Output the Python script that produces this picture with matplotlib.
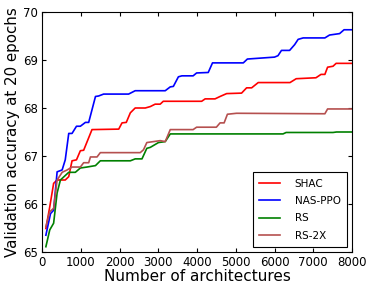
import matplotlib
matplotlib.use('Agg')
import matplotlib.pyplot as plt

# breakpoints (architectures, accuracy)
shac_x = [100, 200, 300, 390, 600, 690, 775, 890, 990, 1075, 1165, 1290, 1980, 2065, 2175,
          2280, 2405, 2665, 2795, 2920, 3050, 3130, 4120, 4210, 4465, 4595, 4765, 5150, 5280,
          5410, 5580, 6400, 6560, 7070, 7200, 7300, 7370, 7510, 7590, 8000]
shac_y = [65.49, 65.94, 66.43, 66.5, 66.5, 66.57, 66.9, 66.92, 67.11, 67.12, 67.3, 67.55, 67.56,
          67.69, 67.7, 67.9, 68.0, 68.0, 68.03, 68.08, 68.08, 68.14, 68.14, 68.19, 68.19, 68.24,
          68.3, 68.31, 68.42, 68.42, 68.53, 68.53, 68.61, 68.63, 68.7, 68.7, 68.85, 68.87, 68.93,
          68.93]

ppo_x = [100, 220, 300, 390, 520, 600, 690, 775, 890, 990, 1120, 1205, 1380, 1460, 1590, 2235,
         2405, 3180, 3310, 3390, 3520, 3610, 3900, 3990, 4290, 4400, 5195, 5300, 6000, 6090,
         6180, 6390, 6520, 6610, 6740, 7300, 7420, 7680, 7795, 8000]
ppo_y = [65.35, 65.8, 65.87, 66.67, 66.71, 66.92, 67.47, 67.47, 67.62, 67.62, 67.7, 67.7, 68.24,
         68.25, 68.29, 68.29, 68.36, 68.36, 68.44, 68.45, 68.65, 68.67, 68.67, 68.73, 68.74, 68.94,
         68.94, 69.02, 69.06, 69.09, 69.2, 69.2, 69.32, 69.43, 69.46, 69.46, 69.52, 69.55, 69.63,
         69.63]

rs_x = [100, 200, 300, 390, 475, 690, 860, 990, 1160, 1380, 1505, 2280, 2405, 2580, 2705, 2795,
        3005, 3180, 3310, 6220, 6300, 7510, 7600, 8000]
rs_y = [65.11, 65.46, 65.6, 66.23, 66.5, 66.66, 66.66, 66.75, 66.77, 66.8, 66.9, 66.9, 66.94,
        66.94, 67.16, 67.18, 67.28, 67.3, 67.46, 67.46, 67.49, 67.49, 67.5, 67.5]

rs2x_x = [100, 200, 300, 390, 520, 650, 775, 990, 1075, 1205, 1250, 1420, 1505, 2535, 2620,
          2705, 3050, 3180, 3310, 3900, 3990, 4500, 4595, 4700, 4785, 5020, 7300, 7370, 8000]
rs2x_y = [65.53, 65.84, 65.91, 66.5, 66.66, 66.71, 66.77, 66.77, 66.86, 66.86, 66.98, 66.98,
          67.07, 67.07, 67.13, 67.28, 67.32, 67.3, 67.55, 67.55, 67.6, 67.6, 67.69, 67.69, 67.87,
          67.89, 67.88, 67.98, 67.98]

fig = plt.figure(figsize=(3.73, 2.90), dpi=100)
ax = fig.add_axes([42 / 373, 38 / 290, 310 / 373, 240 / 290])

ax.plot(shac_x, shac_y, color='red', lw=1.2, label='SHAC')
ax.plot(ppo_x, ppo_y, color='blue', lw=1.2, label='NAS-PPO')
ax.plot(rs_x, rs_y, color='green', lw=1.2, label='RS')
ax.plot(rs2x_x, rs2x_y, color='#b5504f', lw=1.2, label='RS-2X')

ax.set_xlim(0, 8000)
ax.set_ylim(65, 70)
ax.set_xticks(range(0, 8001, 1000))
ax.set_yticks(range(65, 71))
ax.tick_params(direction='in', labelsize=8.5, length=3, top=True, right=True, pad=3)
ax.set_xlabel('Number of architectures', fontsize=11, labelpad=0)
ax.set_ylabel('Validation accuracy at 20 epochs', fontsize=10.8, labelpad=2)

leg = ax.legend(loc='lower right', fontsize=7.5, fancybox=False, framealpha=1,
                edgecolor='black', handlelength=2.0, borderpad=0.6, labelspacing=0.7,
                handletextpad=1.4, borderaxespad=0.5)
leg.get_frame().set_linewidth(0.8)

fig.savefig('out.png', dpi=100)
